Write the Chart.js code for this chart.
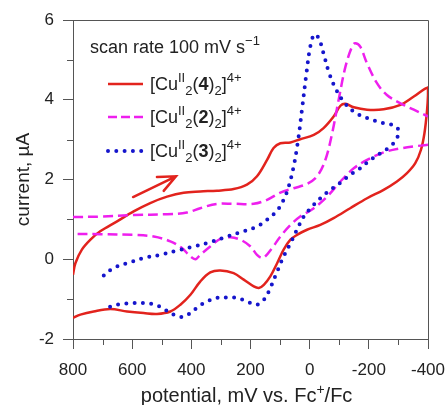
<!DOCTYPE html>
<html lang="en">
<head>
<meta charset="UTF-8">
<title>Cyclic voltammograms</title>
<script src="https://cdn.jsdelivr.net/npm/chart.js"></script>
<style>
  html, body { margin: 0; padding: 0; background: #fff; }
</style>
</head>
<body>
<canvas id="cvChart" width="445" height="405"></canvas>
<script>
// potential (mV vs Fc+/Fc) and current (uA), each curve as one loop
var redX = [800, 792, 770, 741, 708, 651, 595, 539, 482, 426, 370, 313, 257, 212, 178, 144, 122, 99, 65, 32, -14, -47, -81, -104, -121, -149, -194, -250, -307, -352, -400,
            -400, -397, -388, -376, -357, -329, -295, -250, -194, -137, -81, -36, 9, 43, 65, 88, 110, 133, 155, 172, 189, 223, 257, 302, 336, 370, 403, 437, 471, 516, 561, 617, 674, 730, 775, 800];
var redY = [-0.39, -0.10, 0.24, 0.49, 0.70, 0.95, 1.20, 1.41, 1.57, 1.67, 1.70, 1.72, 1.76, 1.87, 2.08, 2.49, 2.79, 2.91, 2.93, 3.01, 3.12, 3.29, 3.58, 3.85, 3.90, 3.81, 3.75, 3.76, 3.87, 4.08, 4.31,
            4.12, 3.75, 3.16, 2.74, 2.41, 2.16, 1.95, 1.74, 1.53, 1.28, 1.03, 0.86, 0.74, 0.61, 0.49, 0.24, -0.10, -0.43, -0.64, -0.72, -0.68, -0.51, -0.35, -0.28, -0.33, -0.56, -0.89, -1.14, -1.31, -1.37, -1.35, -1.31, -1.25, -1.31, -1.39, -1.47];

// magenta trace leaves the frame at -400 mV, the null breaks the line there
var magX = [800, 708, 595, 482, 415, 370, 313, 257, 189, 144, 99, 54, 9, -25, -53, -76, -98, -121, -143, -154, -171, -194, -228, -261, -307, -352, -400,
            -400,
            -400, -363, -307, -250, -194, -149, -104, -59, -14, 32, 65, 99, 127, 150, 161, 178, 200, 234, 268, 302, 336, 370, 386, 403, 432, 471, 527, 595, 708, 800];
var magY = [1.06, 1.07, 1.11, 1.13, 1.17, 1.28, 1.39, 1.39, 1.39, 1.49, 1.67, 1.78, 1.89, 2.08, 2.49, 3.16, 4.00, 4.83, 5.33, 5.42, 5.33, 4.91, 4.41, 4.12, 3.91, 3.75, 3.58,
            null,
            2.87, 2.84, 2.78, 2.68, 2.49, 2.28, 1.95, 1.57, 1.28, 1.07, 0.86, 0.57, 0.28, 0.07, 0.03, 0.11, 0.32, 0.49, 0.55, 0.51, 0.32, 0.11, 0.00, 0.07, 0.28, 0.45, 0.57, 0.61, 0.63, 0.63];

var blueX = [696, 663, 617, 561, 505, 448, 392, 336, 279, 223, 178, 144, 110, 88, 71, 54, 39, 26, 11, -2, -16, -31, -47, -64, -87, -115, -149, -194, -250, -290, -301,
             -293, -273, -239, -205, -171, -137, -104, -70, -36, -8, 20, 43, 65, 88, 110, 133, 150, 167, 184, 212, 246, 279, 313, 347, 375, 403, 432, 460, 488, 522, 561, 595, 634, 663, 685];
var blueY = [-0.41, -0.22, -0.10, 0.03, 0.11, 0.22, 0.32, 0.43, 0.57, 0.70, 0.82, 0.99, 1.22, 1.49, 1.82, 2.33, 2.99, 3.75, 4.66, 5.33, 5.64, 5.54, 5.16, 4.71, 4.29, 3.95, 3.70, 3.54, 3.41, 3.34, 3.20,
             3.01, 2.83, 2.66, 2.49, 2.28, 2.12, 1.92, 1.74, 1.53, 1.32, 1.07, 0.74, 0.40, 0.07, -0.31, -0.72, -0.97, -1.10, -1.14, -1.06, -0.97, -0.96, -0.97, -1.06, -1.18, -1.35, -1.45, -1.39, -1.27, -1.14, -1.10, -1.10, -1.12, -1.16, -1.22];

var xTicks = [800, 600, 400, 200, 0, -200, -400];
var yTicks = [-2, 0, 2, 4, 6];
var xMinor = [700, 500, 300, 100, -100, -300];
var yMinor = [-1, 1, 3, 5];

// arrow showing the scan direction, from / to in data units
var arrowFrom = [597, 1.56];
var arrowTo = [452, 2.08];

var RED = '#e2231d';
var MAGENTA = '#ee1fee';
var BLUE = '#1515cc';
var AXIS = '#555';
var TXT = '#222';

function pts(xs, ys) {
    return xs.map(function (x, i) { return { x: x, y: ys[i] }; });
}

// draws text made of runs: plain, sup, sub, bold
function drawRich(ctx, x, y, runs, size) {
    var small = Math.round(size * 0.7);
    runs.forEach(function (r) {
        var fs = (r.sup || r.sub) ? small : size;
        ctx.font = (r.bold ? 'bold ' : '') + fs + 'px "Liberation Sans", Arial, sans-serif';
        var dy = r.sup ? -size * 0.42 : (r.sub ? size * 0.3 : 0);
        ctx.fillText(r.t, x, y + dy);
        x += ctx.measureText(r.t).width;
    });
    return x;
}

function cuLabel(n) {
    return [{ t: '[Cu' }, { t: 'II', sup: true }, { t: '2', sub: true }, { t: '(' }, { t: n, bold: true },
            { t: ')' }, { t: '2', sub: true }, { t: ']' }, { t: '4+', sup: true }];
}

var legendItems = [
    { color: RED, dash: [], width: 2.5, cap: 'butt', label: cuLabel('4'), y: 84 },
    { color: MAGENTA, dash: [9, 4], width: 2.5, cap: 'butt', label: cuLabel('2'), y: 117 },
    { color: BLUE, dash: [0, 8.3], width: 4, cap: 'round', label: cuLabel('3'), y: 151 }
];

var extras = {
    id: 'extras',
    afterDraw: function (chart) {
        var ctx = chart.ctx;
        var xs = chart.scales.x, ys = chart.scales.y, a = chart.chartArea;
        ctx.save();

        // frame on top and right
        ctx.strokeStyle = AXIS;
        ctx.lineWidth = 1;
        ctx.beginPath();
        ctx.moveTo(a.left, a.top + 0.5);
        ctx.lineTo(a.right + 0.5, a.top + 0.5);
        ctx.lineTo(a.right + 0.5, a.bottom);
        ctx.stroke();

        // minor ticks
        ctx.beginPath();
        xMinor.forEach(function (v) {
            var px = Math.round(xs.getPixelForValue(v)) + 0.5;
            ctx.moveTo(px, a.bottom);
            ctx.lineTo(px, a.bottom + 6);
        });
        yMinor.forEach(function (v) {
            var py = Math.round(ys.getPixelForValue(v)) + 0.5;
            ctx.moveTo(a.left, py);
            ctx.lineTo(a.left - 6, py);
        });
        ctx.stroke();

        // axis titles
        ctx.fillStyle = TXT;
        ctx.textBaseline = 'alphabetic';
        ctx.textAlign = 'left';
        var xt = [{ t: 'potential, mV vs. Fc' }, { t: '+', sup: true }, { t: '/Fc' }];
        ctx.font = '20px "Liberation Sans", Arial, sans-serif';
        var w = ctx.measureText('potential, mV vs. Fc/Fc').width + 8;
        drawRich(ctx, (a.left + a.right) / 2 - w / 2 - 4, 402, xt, 20);

        ctx.save();
        ctx.translate(29, (a.top + a.bottom) / 2);
        ctx.rotate(-Math.PI / 2);
        ctx.textAlign = 'center';
        ctx.font = '19px "Liberation Sans", Arial, sans-serif';
        ctx.fillText('current, \u00b5A', 0, 0);
        ctx.restore();

        // legend block
        ctx.textAlign = 'left';
        drawRich(ctx, 90, 53, [{ t: 'scan rate 100 mV s' }, { t: '\u22121', sup: true }], 18);
        legendItems.forEach(function (it) {
            ctx.strokeStyle = it.color;
            ctx.lineWidth = it.width;
            ctx.lineCap = it.cap;
            ctx.setLineDash(it.dash);
            ctx.beginPath();
            ctx.moveTo(108, it.y);
            ctx.lineTo(143, it.y);
            ctx.stroke();
            ctx.setLineDash([]);
            ctx.fillStyle = TXT;
            drawRich(ctx, 150, it.y + 6, it.label, 18);
        });

        // scan direction arrow
        var x0 = xs.getPixelForValue(arrowFrom[0]), y0 = ys.getPixelForValue(arrowFrom[1]);
        var x1 = xs.getPixelForValue(arrowTo[0]), y1 = ys.getPixelForValue(arrowTo[1]);
        var ang = Math.atan2(y1 - y0, x1 - x0);
        ctx.strokeStyle = RED;
        ctx.lineWidth = 2.5;
        ctx.lineCap = 'round';
        ctx.beginPath();
        ctx.moveTo(x0, y0);
        ctx.lineTo(x1, y1);
        ctx.moveTo(x1 - 19 * Math.cos(ang - 0.42), y1 - 19 * Math.sin(ang - 0.42));
        ctx.lineTo(x1, y1);
        ctx.lineTo(x1 - 19 * Math.cos(ang + 0.42), y1 - 19 * Math.sin(ang + 0.42));
        ctx.stroke();

        ctx.restore();
    }
};

var ctx = document.getElementById('cvChart');
new Chart(ctx, {
    type: 'line',
    data: {
        datasets: [
            { label: 'blue', data: pts(blueX, blueY), borderColor: BLUE, borderWidth: 4, borderDash: [0, 8.3], borderCapStyle: 'round', tension: 0.35, pointRadius: 0, fill: false },
            { label: 'magenta', data: pts(magX, magY), borderColor: MAGENTA, borderWidth: 2.5, borderDash: [10, 5], tension: 0.35, pointRadius: 0, fill: false, spanGaps: false },
            { label: 'red', data: pts(redX, redY), borderColor: RED, borderWidth: 2.5, tension: 0.35, pointRadius: 0, fill: false }
        ]
    },
    options: {
        responsive: false,
        animation: false,
        devicePixelRatio: 1,
        layout: { padding: { top: 20, right: 17, left: 0, bottom: 0 } },
        plugins: { legend: { display: false }, tooltip: { enabled: false } },
        scales: {
            x: {
                type: 'linear',
                reverse: true,
                min: -400,
                max: 800,
                afterBuildTicks: function (s) { s.ticks = xTicks.map(function (v) { return { value: v }; }); },
                afterFit: function (s) { s.height = 66; s.paddingLeft = 0; s.paddingRight = 0; },
                ticks: { color: TXT, padding: 11, font: { size: 17, family: '"Liberation Sans", Arial, sans-serif' }, maxRotation: 0 },
                grid: { drawOnChartArea: false, tickLength: 10, color: AXIS },
                border: { color: AXIS, width: 1 }
            },
            y: {
                type: 'linear',
                min: -2,
                max: 6,
                afterBuildTicks: function (s) { s.ticks = yTicks.map(function (v) { return { value: v }; }); },
                afterFit: function (s) { s.width = 73; s.paddingTop = 0; s.paddingBottom = 0; },
                ticks: { color: TXT, padding: 9, font: { size: 17, family: '"Liberation Sans", Arial, sans-serif' } },
                grid: { drawOnChartArea: false, tickLength: 10, color: AXIS },
                border: { color: AXIS, width: 1 }
            }
        }
    },
    plugins: [extras]
});
</script>
</body>
</html>
